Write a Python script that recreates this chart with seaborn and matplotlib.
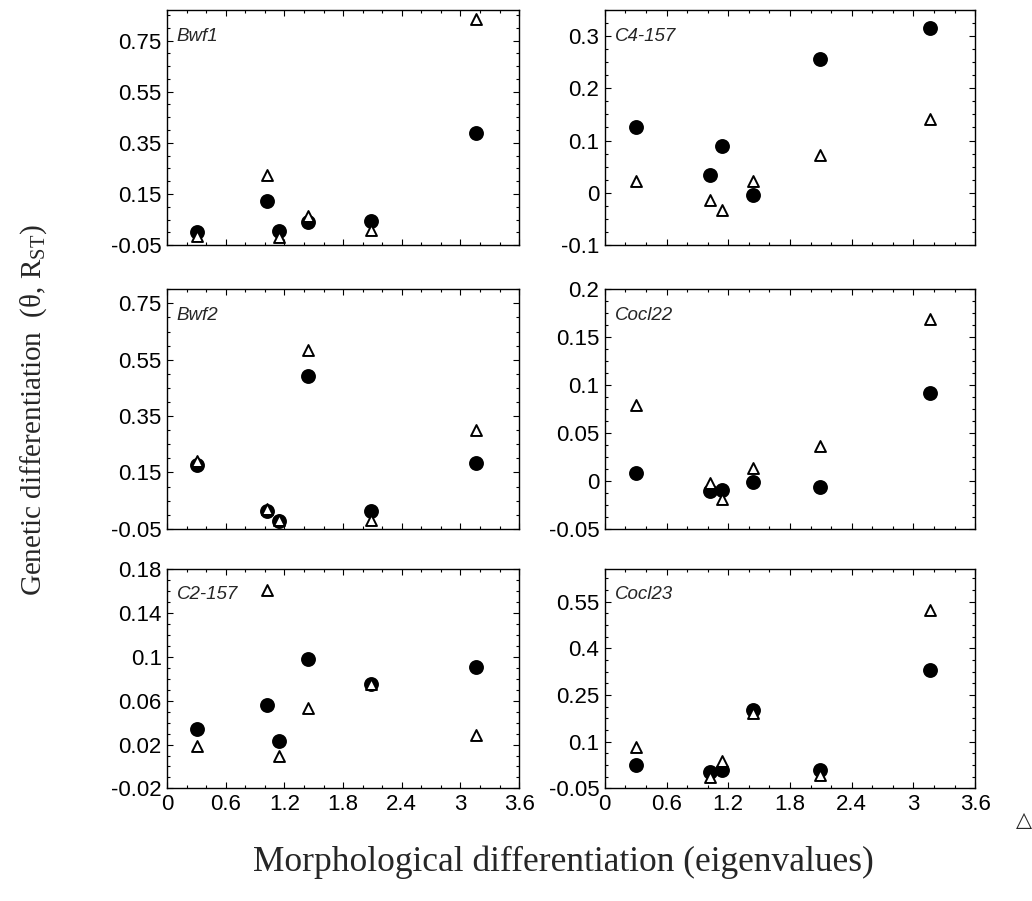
import numpy as np
import pandas as pd
import seaborn as sns
import matplotlib
matplotlib.use("Agg")
from matplotlib import pyplot as plt
from matplotlib.ticker import FixedLocator, AutoMinorLocator, FuncFormatter

# morphological differentiation (eigenvalues), same six population pairs in every panel
eigenvalues = [0.30, 1.02, 1.14, 1.44, 2.09, 3.16]

loci = ["Bwf1", "C4-157", "Bwf2", "Cocl22", "C2-157", "Cocl23"]

# theta (filled circles)
theta_bwf1 = [0.000, 0.123, 0.006, 0.042, 0.046, 0.387]
theta_c4 = [0.126, 0.034, 0.089, -0.005, 0.257, 0.316]
theta_bwf2 = [0.175, 0.013, -0.023, 0.491, 0.015, 0.183]
theta_cocl22 = [0.008, -0.010, -0.009, -0.001, -0.006, 0.092]
theta_c2 = [0.034, 0.056, 0.023, 0.098, 0.075, 0.091]
theta_cocl23 = [0.025, 0.002, 0.009, 0.202, 0.009, 0.330]

# R_ST (open triangles)
rst_bwf1 = [-0.016, 0.225, -0.020, 0.064, 0.009, 0.835]
rst_c4 = [0.023, -0.014, -0.033, 0.023, 0.072, 0.142]
rst_bwf2 = [0.190, 0.021, -0.018, 0.583, -0.018, 0.299]
rst_cocl22 = [0.079, -0.002, -0.019, 0.013, 0.036, 0.169]
rst_c2 = [0.019, 0.161, 0.010, 0.053, 0.075, 0.029]
rst_cocl23 = [0.084, -0.012, 0.039, 0.191, -0.007, 0.523]

theta_all = [theta_bwf1, theta_c4, theta_bwf2, theta_cocl22, theta_c2, theta_cocl23]
rst_all = [rst_bwf1, rst_c4, rst_bwf2, rst_cocl22, rst_c2, rst_cocl23]

x_ticks = [0, 0.6, 1.2, 1.8, 2.4, 3, 3.6]
y_ticks = [
    [-0.05, 0.15, 0.35, 0.55, 0.75],
    [-0.1, 0, 0.1, 0.2, 0.3],
    [-0.05, 0.15, 0.35, 0.55, 0.75],
    [-0.05, 0, 0.05, 0.1, 0.15, 0.2],
    [-0.02, 0.02, 0.06, 0.1, 0.14, 0.18],
    [-0.05, 0.1, 0.25, 0.4, 0.55],
]
y_limits = [(-0.05, 0.87), (-0.1, 0.35), (-0.05, 0.80),
            (-0.05, 0.2), (-0.02, 0.18), (-0.05, 0.654)]

sns.set_style("ticks")
plt.rcParams['font.family'] = ['Liberation Sans', 'DejaVu Sans']
plt.rcParams['axes.unicode_minus'] = False
plt.rcParams['mathtext.fontset'] = 'custom'
plt.rcParams['mathtext.rm'] = 'Liberation Serif'

fig = plt.figure(figsize=(10.32, 9.01), dpi=100)

# axes boxes in figure fractions (left column, right column; three rows)
col_left = [(0.162, 0.341), (0.586, 0.359)]
row_box = [(0.728, 0.261), (0.413, 0.266), (0.125, 0.243)]

for i, locus in enumerate(loci):
    r, c = divmod(i, 2)
    ax = fig.add_axes([col_left[c][0], row_box[r][0], col_left[c][1], row_box[r][1]])
    df = pd.DataFrame({'eig': eigenvalues, 'theta': theta_all[i], 'rst': rst_all[i]})

    sns.scatterplot(data=df, x='eig', y='theta', ax=ax, color='black',
                    edgecolor='black', s=115, linewidth=0, zorder=2)
    sns.scatterplot(data=df, x='eig', y='rst', ax=ax, marker='^', color='white',
                    edgecolor='black', s=62, linewidth=1.4, zorder=3)

    ax.set_xlim(0, 3.6)
    ax.set_ylim(*y_limits[i])
    ax.xaxis.set_major_locator(FixedLocator(x_ticks))
    ax.yaxis.set_major_locator(FixedLocator(y_ticks[i]))
    ax.xaxis.set_minor_locator(AutoMinorLocator(3))
    ax.yaxis.set_minor_locator(AutoMinorLocator(4))
    ax.yaxis.set_major_formatter(FuncFormatter(lambda v, p: f"{v:g}"))
    ax.xaxis.set_major_formatter(FuncFormatter(lambda v, p: f"{v:g}"))
    ax.tick_params(which='both', direction='in', top=True, right=True,
                   labelsize=16, colors='black', width=0.8, pad=4)
    ax.tick_params(which='major', length=4)
    ax.tick_params(which='minor', length=2)
    if r < 2:
        ax.tick_params(axis='x', labelbottom=False)
    ax.set_xlabel('')
    ax.set_ylabel('')
    for sp in ax.spines.values():
        sp.set_linewidth(1.0)
        sp.set_color('black')

    ax.text(0.027, 0.925, locus, transform=ax.transAxes, ha='left', va='top',
            fontsize=13.5, style='italic')

fig.text(0.033, 0.545, "Genetic differentiation  (\u03b8, R$_{\\mathrm{ST}}$)",
         rotation=90, ha='center', va='center', fontsize=21,
         family=['Liberation Serif', 'DejaVu Serif'])
fig.text(0.546, 0.043, "Morphological differentiation (eigenvalues)",
         ha='center', va='center', fontsize=25.5,
         family=['Liberation Serif', 'DejaVu Serif'])
fig.text(0.984, 0.09, "\u25b3", ha='left', va='center', fontsize=15,
         family=['DejaVu Sans'])

fig.savefig('out.png', dpi=100)
